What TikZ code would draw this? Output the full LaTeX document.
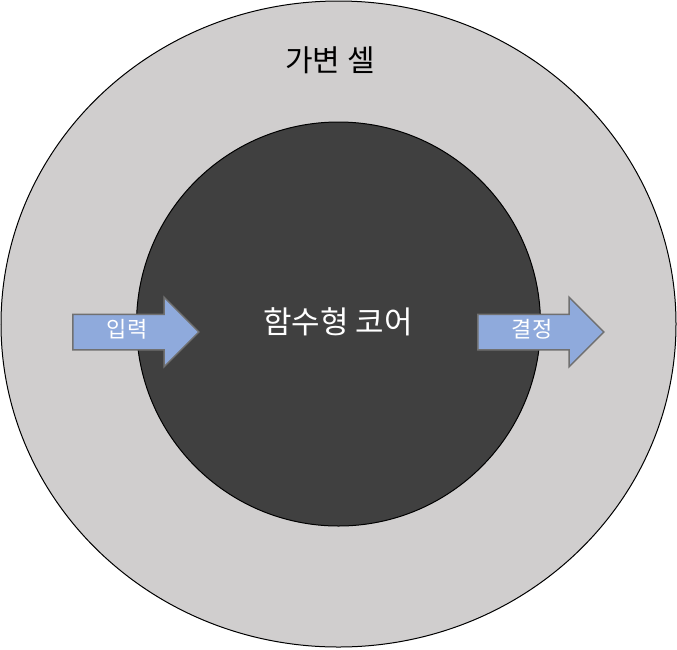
\documentclass[tikz,border=0pt]{standalone}
\usepackage{fontspec}
\setmainfont{Noto Sans CJK KR}
\usetikzlibrary{shapes.arrows,shapes.geometric}
\definecolor{cshell}{HTML}{D0CECE}
\definecolor{ccore}{HTML}{404040}
\definecolor{carrow}{HTML}{8FAADC}
\definecolor{cedge}{HTML}{707070}

\begin{document}
\begin{tikzpicture}[x=1pt,y=-1pt,
  flow/.style={single arrow,draw=cedge,fill=carrow,line width=1.5pt,
    minimum height=126pt,minimum width=68pt,single arrow head extend=17pt,
    single arrow head indent=0pt,inner xsep=0pt,inner ysep=5.5pt,
    text height=17pt,text depth=6pt,text=white,font=\fontsize{22}{26}\selectfont}]
  \useasboundingbox (0,0) rectangle (677,649);
  \node[ellipse,draw,fill=cshell,line width=1pt,minimum width=675pt,minimum height=646pt,inner sep=0pt] (shell) at (338.5,324) {};
  \node[circle,draw,fill=ccore,line width=1pt,minimum size=404pt,inner sep=0pt] (core) at (338.5,324) {};
  \node[font=\fontsize{30}{34}\selectfont] (shelltxt) at (330,60) {가변 셀};
  \node[font=\fontsize{31}{36}\selectfont,text=white] (coretxt) at (338,322) {함수형 코어};
  \node[flow] (input) at (127,332) {입력};
  \node[flow] (decide) at (532,332) {결정};
\end{tikzpicture}
\end{document}
